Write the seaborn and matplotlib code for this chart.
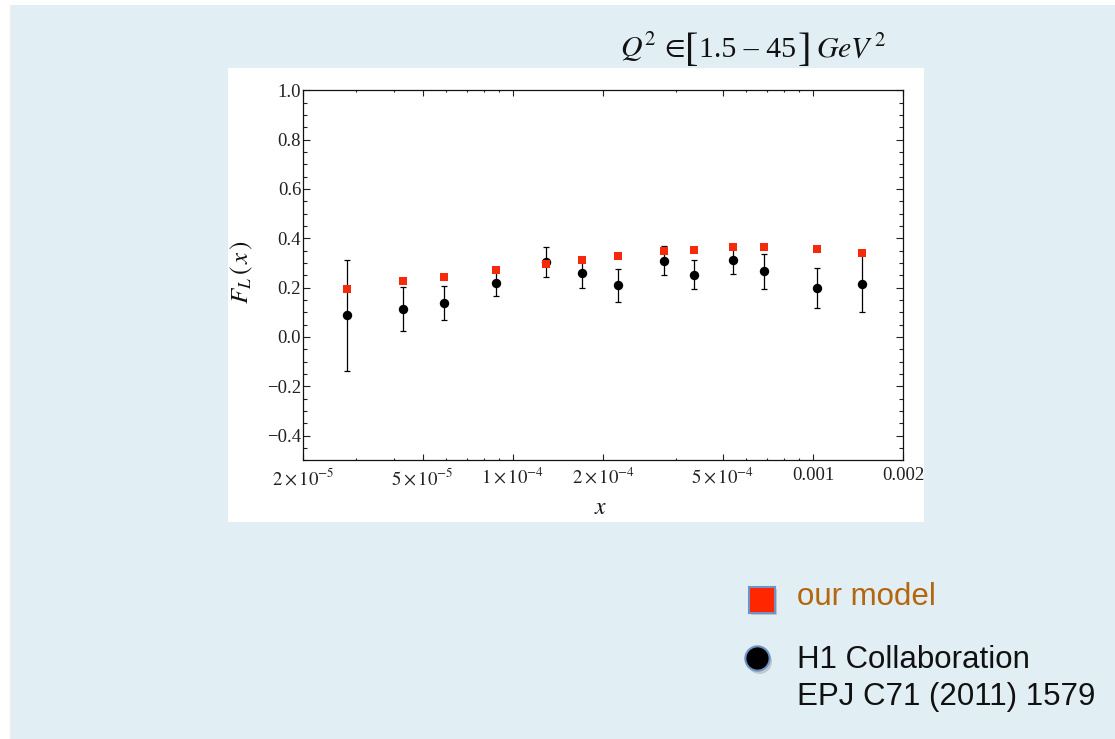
import numpy as np
import pandas as pd
import matplotlib
matplotlib.use("Agg")
import matplotlib.pyplot as plt
import seaborn as sns
from matplotlib.patches import Rectangle
from matplotlib.lines import Line2D
from matplotlib.ticker import FixedLocator, FixedFormatter, MultipleLocator

# Bjorken-x bins
x_vals = [2.80e-5, 4.29e-5, 5.91e-5, 8.77e-5, 1.29e-4, 1.70e-4, 2.24e-4,
          3.19e-4, 4.02e-4, 5.40e-4, 6.87e-4, 1.028e-3, 1.456e-3]
# model prediction for F_L
model_fl = [0.194, 0.226, 0.243, 0.271, 0.294, 0.312, 0.330,
            0.349, 0.353, 0.365, 0.365, 0.357, 0.340]
# H1 measurement and its uncertainty
h1_fl = [0.088, 0.114, 0.138, 0.220, 0.304, 0.259, 0.210,
         0.309, 0.253, 0.313, 0.266, 0.198, 0.216]
h1_err = [0.226, 0.088, 0.070, 0.053, 0.060, 0.062, 0.067,
          0.058, 0.058, 0.059, 0.070, 0.082, 0.115]

x_major = [2e-5, 5e-5, 1e-4, 2e-4, 5e-4, 1e-3, 2e-3]
x_major_labels = [r"$2\times10^{-5}$", r"$5\times10^{-5}$", r"$1\times10^{-4}$",
                  r"$2\times10^{-4}$", r"$5\times10^{-4}$", "0.001", "0.002"]
x_minor = [3e-5, 4e-5, 6e-5, 7e-5, 8e-5, 9e-5, 3.5e-4, 6e-4, 7e-4, 8e-4, 9e-4]
y_major = [-0.4, -0.2, 0.0, 0.2, 0.4, 0.6, 0.8, 1.0]
y_major_labels = ["\u22120.4", "\u22120.2", "0.0", "0.2", "0.4", "0.6", "0.8", "1.0"]

sns.set_theme(style="ticks")
plt.rcParams["font.family"] = ["Liberation Serif", "DejaVu Serif"]
plt.rcParams["mathtext.fontset"] = "stix"

W, H = 1115, 739
fig = plt.figure(figsize=(W / 100, H / 100), dpi=100)
fig.patch.set_facecolor("white")


def fx(px):
    return px / W


def fy(py):
    return 1 - py / H


# slide panel with a soft shadow on its left edge
for i, a in enumerate([0.05, 0.10, 0.16]):
    fig.add_artist(Rectangle((fx(9 + i), 0), fx(1), fy(5), transform=fig.transFigure,
                             facecolor="#808080", alpha=a, edgecolor="none", zorder=-12))
fig.add_artist(Rectangle((fx(12), 0), 1 - fx(12), fy(5), transform=fig.transFigure,
                         facecolor="#E1EFF5", edgecolor="none", zorder=-11))
# white plot card
fig.add_artist(Rectangle((fx(228), fy(522)), fx(924 - 228), (522 - 68) / H,
                         transform=fig.transFigure, facecolor="white",
                         edgecolor="none", zorder=-10))

ax = fig.add_axes([fx(303.3), fy(460.3), 600 / W, 370 / H])
ax.set_facecolor("white")

df = pd.DataFrame({"x": x_vals, "model": model_fl, "h1": h1_fl, "err": h1_err})

ax.errorbar(df["x"], df["h1"], yerr=df["err"], fmt="none", ecolor="black",
            elinewidth=0.9, capsize=2.2, capthick=0.9, zorder=2)
sns.scatterplot(data=df, x="x", y="h1", marker="o", s=46, color="black",
                edgecolor="black", linewidth=0, ax=ax, zorder=3)
sns.scatterplot(data=df, x="x", y="model", marker="s", s=30, color="#F52A0A",
                linewidth=0, ax=ax, zorder=4)

ax.set_xscale("log")
ax.set_xlim(2e-5, 2e-3)
ax.set_ylim(-0.5, 1.0)
ax.xaxis.set_major_locator(FixedLocator(x_major))
ax.xaxis.set_major_formatter(FixedFormatter(x_major_labels))
ax.xaxis.set_minor_locator(FixedLocator(x_minor))
ax.xaxis.set_minor_formatter(FixedFormatter([""] * len(x_minor)))
ax.yaxis.set_major_locator(FixedLocator(y_major))
ax.yaxis.set_major_formatter(FixedFormatter(y_major_labels))
ax.yaxis.set_minor_locator(MultipleLocator(0.05))

ax.tick_params(which="both", direction="in", top=True, right=True,
               color="#222222", width=0.8)
ax.tick_params(axis="x", which="major", length=4.3, pad=5, labelsize=13.5,
               labelcolor="#222222")
ax.tick_params(axis="x", which="minor", length=1.6)
ax.tick_params(axis="y", which="major", length=4.8, pad=1.5, labelsize=13.5,
               labelcolor="#222222")
ax.tick_params(axis="y", which="minor", length=2.8)
for sp in ax.spines.values():
    sp.set_color("#111111")
    sp.set_linewidth(0.9)
ax.set_xlabel("")
ax.set_ylabel("")

# axis titles
fig.text(fx(242), fy(272), r"$F_L\,(\,x\,)$", rotation=90, ha="center",
         va="center", fontsize=18, color="#111111")
fig.text(fx(601), fy(509), r"$x$", ha="center", va="center", fontsize=17,
         color="#111111")

# kinematic range, set piece by piece so the brackets can be taller;
# each piece starts where the previous one ends
renderer = fig.canvas.get_renderer()
title_pieces = [
    (r"$Q^2\,\in$", 21.5, 57, 0),
    ("[", 29, 61, 0),
    ("1.5 \u2013 45", 21.5, 57, 1),
    ("]", 29, 61, 1),
    (r"$GeV^{\,2}$", 21.5, 57, 5),
]
cursor = 620
for text, size, base, gap in title_pieces:
    cursor += gap
    t = fig.text(fx(cursor), fy(base), text, fontsize=size, ha="left",
                 va="baseline", color="#111111")
    cursor = t.get_window_extent(renderer).x1

# legend entries
sans = ["Liberation Sans", "DejaVu Sans"]
fig.add_artist(Line2D([fx(764)], [fy(602)], transform=fig.transFigure,
                      marker="s", markersize=19, color="#9a9a9a", alpha=0.45,
                      markeredgewidth=0, linestyle="none"))
fig.add_artist(Line2D([fx(761.7)], [fy(599.5)], transform=fig.transFigure,
                      marker="s", markersize=18.5, markerfacecolor="#FF2600",
                      markeredgecolor="#6E93C4", markeredgewidth=1.5,
                      linestyle="none"))
fig.add_artist(Line2D([fx(759)], [fy(660.5)], transform=fig.transFigure,
                      marker="o", markersize=18, color="#9a9a9a", alpha=0.45,
                      markeredgewidth=0, linestyle="none"))
fig.add_artist(Line2D([fx(757.3)], [fy(658.3)], transform=fig.transFigure,
                      marker="o", markersize=17.5, markerfacecolor="black",
                      markeredgecolor="#6E93C4", markeredgewidth=1.5,
                      linestyle="none"))
fig.text(fx(797), fy(597), "our model", family=sans, fontsize=22.5,
         color="#B5650D", ha="left", va="center")
fig.text(fx(797), fy(660), "H1 Collaboration", family=sans, fontsize=22.5,
         color="#111111", ha="left", va="center")
fig.text(fx(797), fy(697), "EPJ C71 (2011) 1579", family=sans, fontsize=22.5,
         color="#111111", ha="left", va="center")

fig.savefig("out.png", dpi=100, facecolor=fig.get_facecolor())
